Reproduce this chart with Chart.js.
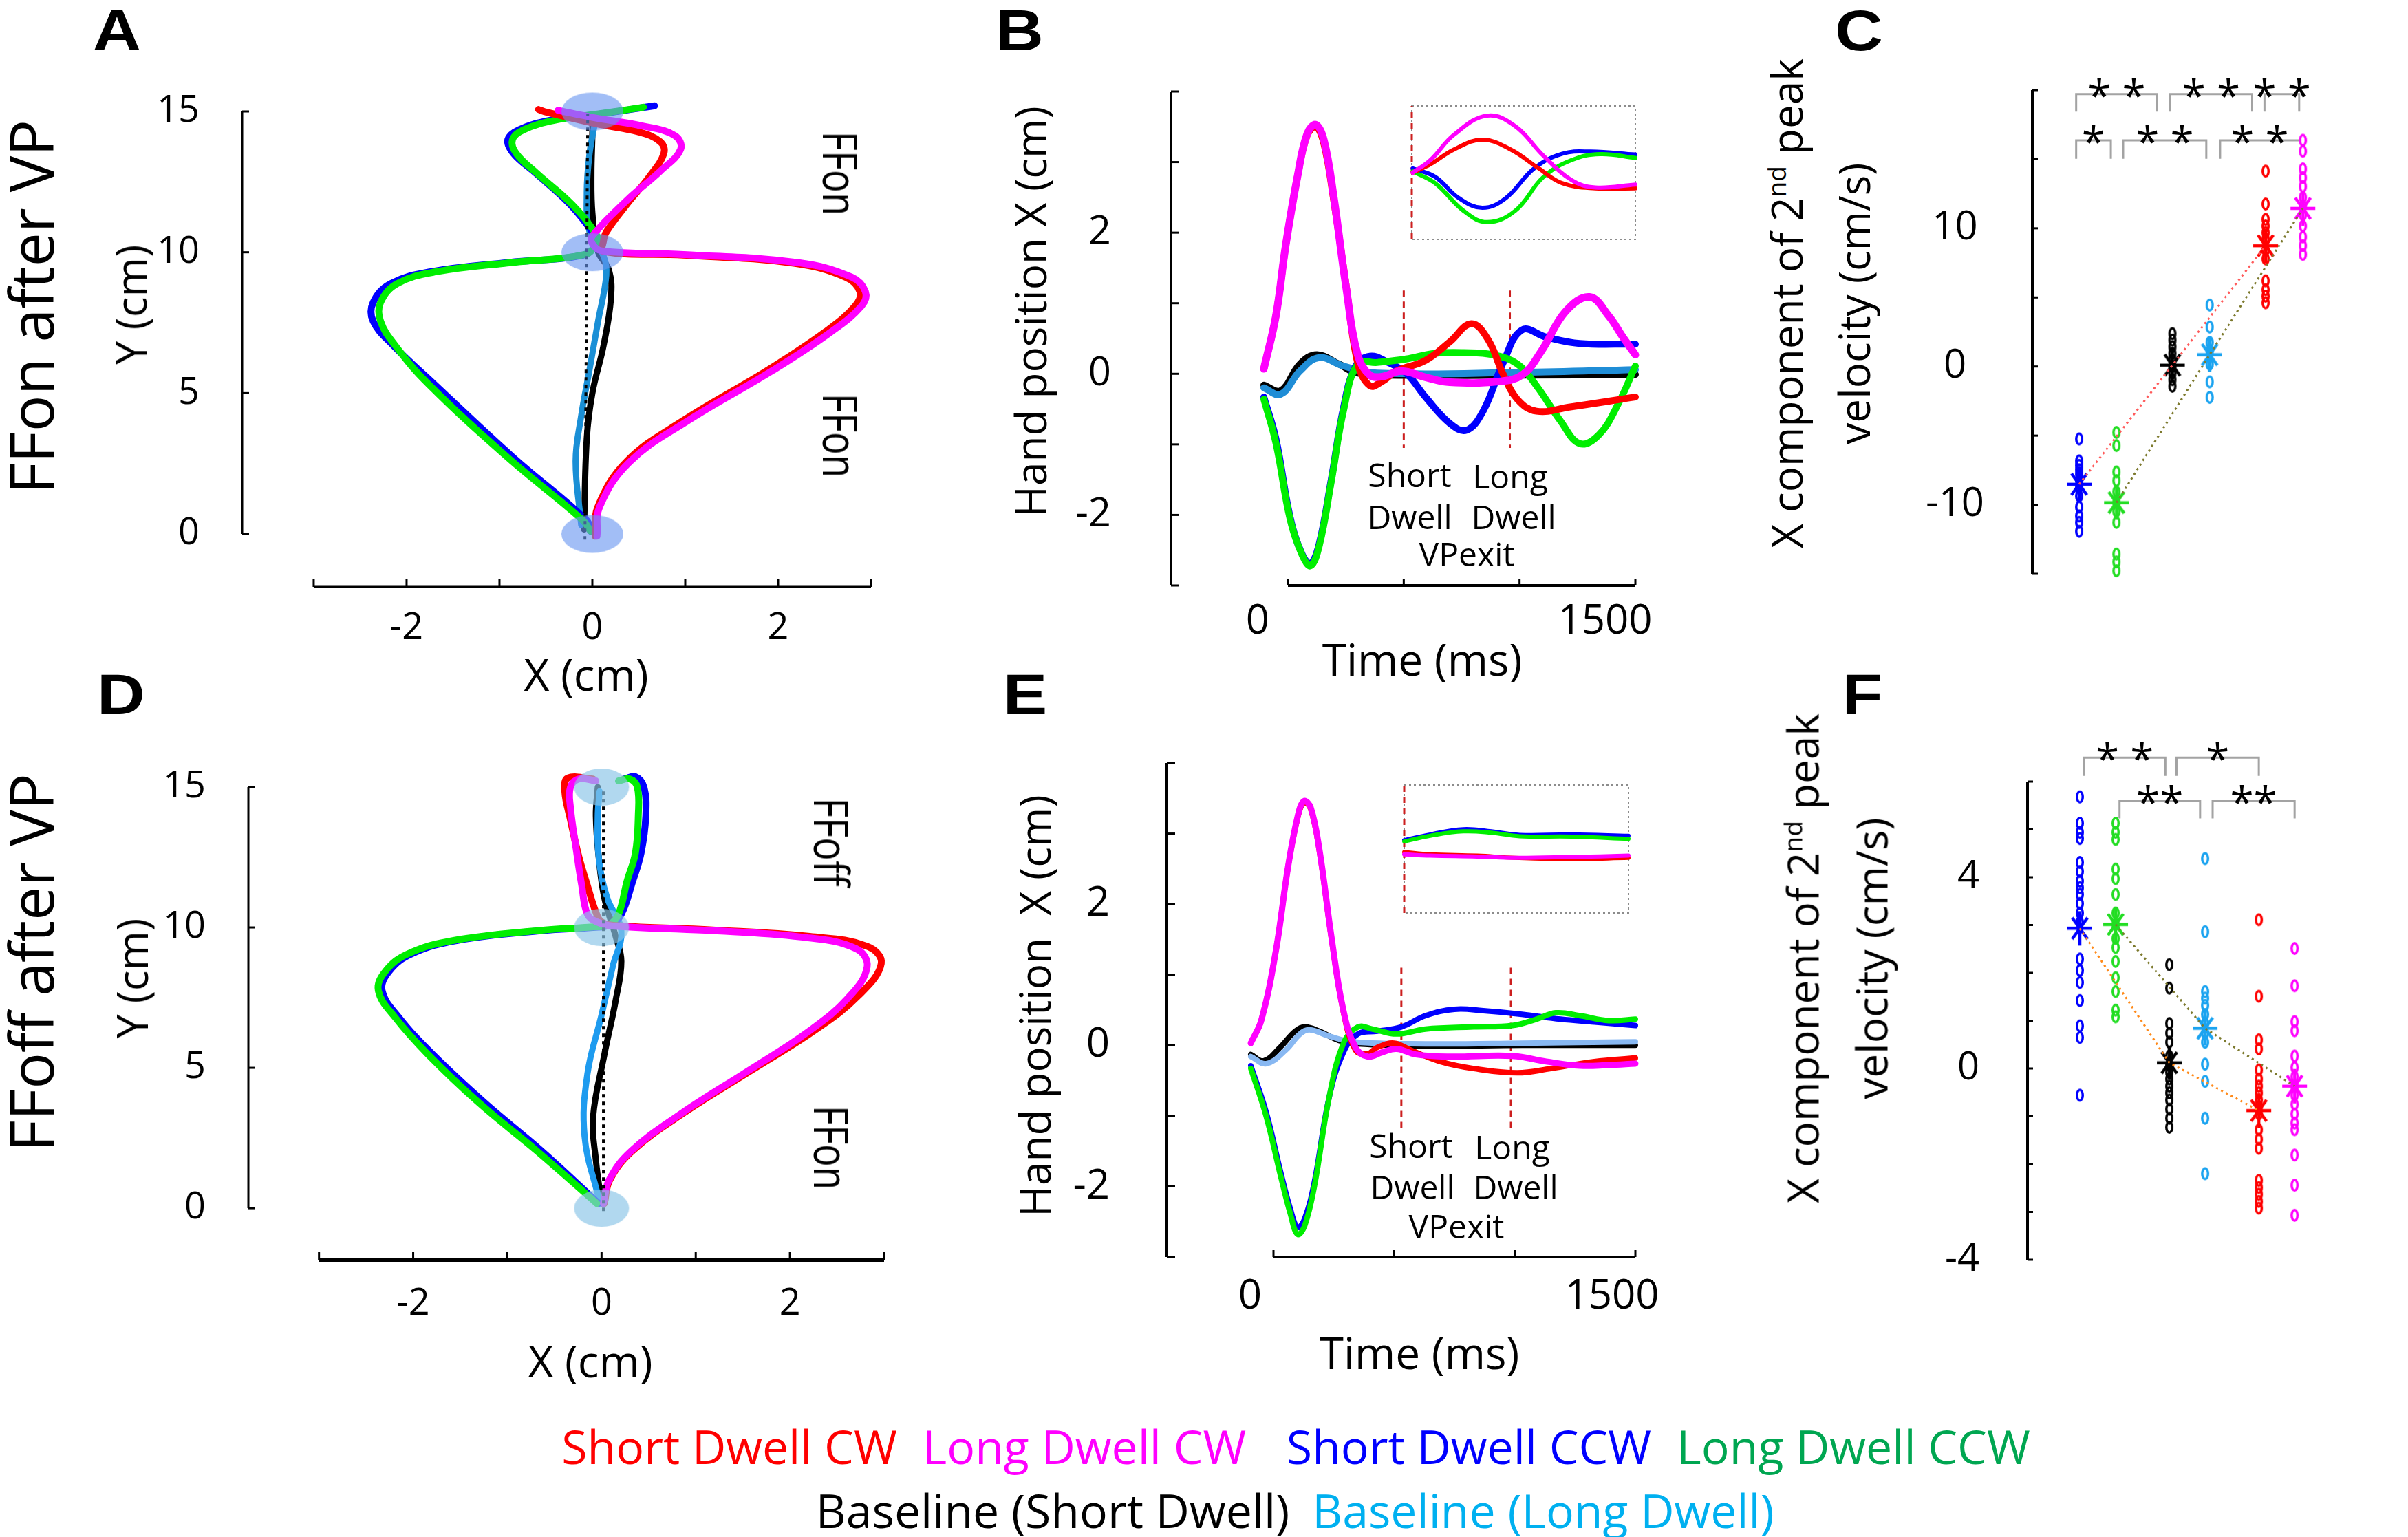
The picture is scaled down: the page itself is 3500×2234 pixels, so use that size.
<!DOCTYPE html>
<html><head><meta charset="utf-8">
<script src="https://cdn.jsdelivr.net/npm/chart.js@4.4.1/dist/chart.umd.min.js"></script>
<style>
html,body{margin:0;padding:0;background:#fff;}
body{width:3500px;height:2234px;position:relative;overflow:hidden;}
.t{position:absolute;white-space:pre;line-height:1;color:#000;}
canvas{position:absolute;}
</style></head><body>
<script>
const FONT = "'Open Sans', 'DejaVu Sans', sans-serif";

// ---------------- DATA ----------------
// Panel A : hand paths, FFon after VP  [x cm, y cm]
const aShortCW  = [[0.03,-0.08],[0.06,0.97],[0.37,2.58],[0.98,4.03],[1.9,5.84],[2.51,7.18],[2.83,8.1],[2.88,8.6],[2.73,9.11],[2.17,9.61],[0.98,9.9],[0.12,10.03],[0.12,10.4],[0.15,10.72],[0.37,11.7],[0.61,12.67],[0.77,13.51],[0.73,13.93],[0.49,14.28],[0.06,14.55],[-0.49,14.97],[-0.58,15.07]];
const aLongCW   = [[0.05,-0.08],[0.08,0.97],[0.4,2.55],[1.02,4.0],[1.94,5.8],[2.56,7.15],[2.9,8.1],[2.94,8.6],[2.79,9.12],[2.22,9.63],[0.98,9.92],[0.1,10.05],[0.0,10.3],[0.0,10.58],[0.37,11.84],[0.73,12.88],[0.95,13.65],[0.89,14.14],[0.55,14.48],[0.0,14.79],[-0.37,15.04]];
const aShortCCW = [[-0.02,0.1],[-0.06,0.48],[-0.86,2.74],[-1.71,5.34],[-2.14,6.68],[-2.36,7.55],[-2.36,8.22],[-2.17,8.89],[-1.74,9.31],[-0.9,9.64],[-0.1,9.9],[0.05,10.3],[0.03,10.58],[-0.24,11.7],[-0.61,12.81],[-0.85,13.51],[-0.91,14.0],[-0.79,14.35],[-0.45,14.69],[0.06,14.9],[0.67,15.2]];
const aLongCCW  = [[-0.02,0.1],[-0.1,0.48],[-0.92,2.74],[-1.77,5.34],[-2.12,6.68],[-2.28,7.55],[-2.28,8.22],[-2.1,8.89],[-1.68,9.31],[-0.86,9.64],[-0.08,9.92],[0.04,10.3],[0.05,10.58],[-0.22,11.7],[-0.6,12.81],[-0.82,13.51],[-0.86,14.0],[-0.74,14.35],[-0.4,14.69],[0.08,14.92],[0.55,15.15]];
const aBaseShort = [[-0.09,0.16],[-0.06,3.39],[0,5],[0.12,6.68],[0.2,8.36],[0.18,9.36],[0.06,10.03],[0,11.4],[-0.01,12.8],[0,14.2],[0,14.9]];
const aBaseLong  = [[-0.12,0.32],[-0.18,2.58],[-0.12,4.19],[-0.03,5.84],[0.06,7.52],[0.15,9.19],[0.12,9.87],[-0.03,10.72],[-0.06,12.12],[-0.03,13.51],[0.03,14.62]];
const aTargets = [[0,0],[0,10],[0,15]];
const aMidline = [[-0.08,-0.2],[-0.05,14.9]];

// Panel D : hand paths, FFoff after VP
const dShortCW  = [[0.03,0.17],[0.09,1.02],[0.33,2.05],[0.88,3.41],[1.61,4.95],[2.27,6.35],[2.73,7.58],[2.97,8.72],[2.82,9.33],[2.21,9.68],[1.18,9.91],[0.15,10.07],[0.0,10.2],[-0.06,10.54],[-0.15,11.49],[-0.24,12.51],[-0.33,13.83],[-0.39,14.85],[-0.36,15.32],[-0.09,15.29]];
const dLongCW   = [[0.02,0.17],[0.08,1.0],[0.31,2.02],[0.85,3.38],[1.56,4.9],[2.2,6.3],[2.62,7.5],[2.82,8.6],[2.7,9.25],[2.12,9.66],[1.1,9.9],[0.12,10.05],[-0.05,10.2],[-0.15,10.47],[-0.21,11.49],[-0.27,12.81],[-0.33,14.27],[-0.33,15.0],[-0.24,15.29],[-0.06,15.22]];
const dShortCCW = [[-0.03,0.17],[-0.64,2.05],[-1.24,3.75],[-1.79,5.47],[-2.15,6.79],[-2.33,7.75],[-2.25,8.46],[-2.01,9.07],[-1.53,9.54],[-0.62,9.89],[-0.09,10.0],[0.1,10.1],[0.21,10.47],[0.33,11.64],[0.42,12.66],[0.47,13.98],[0.45,15.0],[0.36,15.37],[0.24,15.29]];
const dLongCCW  = [[-0.05,0.17],[-0.69,2.05],[-1.3,3.75],[-1.84,5.47],[-2.19,6.79],[-2.37,7.75],[-2.29,8.46],[-2.05,9.07],[-1.57,9.54],[-0.64,9.9],[-0.09,10.02],[0.08,10.1],[0.18,10.47],[0.27,11.64],[0.36,12.66],[0.39,13.98],[0.38,15.0],[0.3,15.29],[0.18,15.22]];
const dBaseShort = [[0,0.17],[-0.06,1.71],[-0.09,3.24],[0.03,5.47],[0.15,7.4],[0.21,8.8],[0.15,9.68],[0.03,11.05],[-0.03,12.51],[-0.06,13.98],[-0.04,15.0]];
const dBaseLong  = [[-0.03,0.34],[-0.18,2.56],[-0.15,4.78],[0,6.88],[0.12,8.63],[0.21,9.88],[0.06,11.05],[-0.03,12.51],[-0.04,13.98],[-0.02,14.85]];
const dTargets = [[0,0],[0,10],[0,15]];
const dMidline = [[0.02,-0.1],[0.02,14.9]];

// Panel B : hand position X vs time [ms, cm]
const bShortCW  = [[-104,0.07],[-52,0.82],[-10,1.81],[42,2.81],[83,3.38],[121,3.5],[156,3.25],[198,2.45],[250,1.28],[302,0.14],[354,-0.17],[406,-0.11],[469,0.04],[594,0.19],[698,0.45],[792,0.71],[865,0.48],[927,0.01],[990,-0.36],[1073,-0.53],[1219,-0.47],[1500,-0.33]];
const bLongCW   = [[-104,0.07],[-52,0.82],[-10,1.81],[42,2.81],[83,3.4],[121,3.53],[156,3.3],[198,2.5],[250,1.25],[302,0.26],[354,-0.02],[406,-0.04],[490,0.04],[594,-0.05],[698,-0.12],[906,-0.11],[1010,-0.02],[1094,0.32],[1198,0.88],[1302,1.09],[1385,0.82],[1448,0.51],[1500,0.27]];
const bShortCCW = [[-104,-0.33],[-52,-0.92],[10,-2.04],[63,-2.57],[98,-2.69],[135,-2.41],[188,-1.48],[240,-0.48],[292,0.11],[354,0.25],[427,0.17],[510,0.01],[594,-0.33],[698,-0.7],[771,-0.8],[844,-0.52],[927,0.14],[1010,0.62],[1115,0.52],[1260,0.43],[1500,0.42]];
const bLongCCW  = [[-104,-0.36],[-52,-0.98],[10,-2.07],[63,-2.58],[98,-2.72],[135,-2.44],[188,-1.51],[240,-0.52],[302,0.14],[385,0.16],[510,0.21],[635,0.29],[760,0.3],[885,0.27],[990,0.14],[1073,-0.17],[1177,-0.67],[1260,-0.99],[1344,-0.86],[1427,-0.42],[1500,0.11]];
const bBaseShort = [[-104,-0.16],[-31,-0.24],[52,0.14],[125,0.27],[219,0.14],[302,0.01],[594,-0.02],[1000,-0.02],[1500,-0.01]];
const bBaseLong  = [[-104,-0.2],[-31,-0.29],[52,0.04],[135,0.23],[240,0.11],[385,0.01],[1010,0.02],[1500,0.06]];
const bDwellTimes = [500, 958];
const bDwellSpan = [1.18, -1.05];
// Panel B inset (magnified, 500-1500 ms)
const bInsShortCW  = [[504,0],[584,0.2],[689,0.55],[816,0.78],[942,0.55],[1068,0.1],[1174,-0.25],[1321,-0.37],[1500,-0.37]];
const bInsLongCW   = [[504,0],[584,0.3],[689,0.9],[837,1.35],[963,1.1],[1089,0.4],[1216,-0.18],[1321,-0.35],[1500,-0.28]];
const bInsShortCCW = [[504,0.1],[605,-0.1],[710,-0.6],[816,-0.83],[921,-0.6],[1047,0.1],[1174,0.45],[1300,0.5],[1500,0.43]];
const bInsLongCCW  = [[504,0.03],[605,-0.25],[731,-0.9],[837,-1.17],[963,-0.9],[1089,-0.1],[1216,0.3],[1342,0.44],[1500,0.35]];

// Panel E
const eShortCW  = [[-94,0.03],[-50,0.36],[10,1.34],[60,2.52],[100,3.22],[126,3.44],[154,3.35],[190,2.76],[240,1.52],[290,0.47],[340,-0.07],[390,-0.12],[430,-0.03],[500,0.03],[570,-0.07],[690,-0.23],[830,-0.33],[1010,-0.39],[1150,-0.33],[1330,-0.23],[1500,-0.18]];
const eLongCW   = [[-94,0.03],[-50,0.36],[10,1.34],[60,2.52],[100,3.24],[126,3.46],[154,3.37],[190,2.78],[240,1.54],[290,0.49],[340,-0.03],[390,-0.16],[450,-0.1],[510,-0.05],[590,-0.13],[730,-0.16],[990,-0.15],[1130,-0.23],[1270,-0.29],[1390,-0.28],[1500,-0.26]];
const eShortCCW = [[-94,-0.29],[-30,-0.95],[30,-1.8],[70,-2.32],[100,-2.58],[130,-2.45],[170,-1.93],[230,-0.75],[290,-0.1],[350,0.16],[430,0.2],[530,0.26],[630,0.42],[750,0.51],[870,0.49],[1030,0.44],[1190,0.37],[1330,0.33],[1500,0.28]];
const eLongCCW  = [[-94,-0.33],[-30,-1.01],[30,-1.86],[70,-2.39],[100,-2.68],[130,-2.55],[170,-1.99],[230,-0.75],[290,0.03],[350,0.26],[410,0.23],[510,0.16],[630,0.23],[830,0.26],[990,0.28],[1090,0.37],[1170,0.46],[1270,0.42],[1390,0.35],[1500,0.37]];
const eBaseShort = [[-94,-0.13],[-40,-0.22],[30,-0.02],[90,0.2],[130,0.26],[190,0.2],[270,0.07],[350,0.02],[630,-0.01],[1030,0],[1500,0]];
const eBaseLong  = [[-94,-0.16],[-30,-0.26],[50,-0.07],[110,0.16],[150,0.22],[230,0.13],[330,0.05],[630,0.02],[1030,0.03],[1500,0.05]];
const eDwellTimes = [530, 984];
const eDwellSpan = [1.1, -1.2];
const eInsShortCW  = [[500,-0.07],[616,-0.12],[826,-0.15],[995,-0.2],[1247,-0.23],[1500,-0.2]];
const eInsLongCW   = [[500,-0.12],[616,-0.15],[826,-0.17],[995,-0.2],[1247,-0.18],[1500,-0.15]];
const eInsShortCCW = [[500,0.2],[616,0.33],[763,0.45],[889,0.4],[1015,0.32],[1247,0.33],[1500,0.3]];
const eInsLongCCW  = [[500,0.17],[616,0.3],[763,0.4],[889,0.37],[1015,0.29],[1247,0.28],[1500,0.23]];

// Panels C / F : X component of 2nd peak velocity (cm/s)
const groupPos = [1, 2, 3.5, 4.5, 6, 7]; // Short CCW, Long CCW, Base short, Base long, Short CW, Long CW
const cShortCCW = [-5.24,-6.83,-7.15,-7.47,-7.79,-8.26,-8.74,-9.38,-10.17,-10.81,-11.28,-11.92];
const cLongCCW  = [-4.77,-5.72,-7.63,-8.26,-9.06,-9.85,-10.49,-11.28,-13.57,-14.14,-14.78];
const cBaseShort = [2.38,1.91,1.43,0.95,0.48,0,-0.48,-0.95,-1.43];
const cBaseLong  = [4.45,2.86,1.75,1.11,0.16,-1.11,-2.23];
const cShortCW  = [14.14,11.76,10.65,10.17,9.69,9.22,8.42,7.79,6.2,5.56,5.09,4.61];
const cLongCW   = [16.37,15.58,14.3,13.67,13.03,12.24,11.6,10.97,10.17,9.38,8.74,8.11];
const cMeans = [-8.52,-9.85,0.1,0.86,8.74,11.44];
// [x1, x2, top, left leg end, right leg end, label]
const cBrackets = [
  [0.92,3.09,19.71,18.44,18.44,'* *'],[3.44,5.64,19.71,18.44,18.44,'* *'],[5.97,6.9,19.71,18.44,18.44,'* *'],
  [0.92,1.85,16.37,15.03,15.03,'*'],[2.18,4.41,16.37,15.03,15.03,'* *'],[4.78,6.9,16.37,15.03,16.37,'* *']];

const fShortCCW = [5.68,5.13,4.94,4.81,4.31,4.12,3.92,3.78,3.64,3.45,3.25,3.06,2.29,2.05,1.80,1.42,0.89,0.65,-0.56];
const fLongCCW  = [5.13,4.94,4.79,4.17,3.97,3.64,3.25,3.01,2.72,2.53,2.24,1.9,1.61,1.22,1.08];
const fBaseShort = [2.17,1.68,0.94,0.74,0.55,0.26,0.07,-0.08,-0.22,-0.37,-0.51,-0.66,-0.85,-1.04,-1.23];
const fBaseLong  = [4.39,2.86,1.61,1.47,1.32,1.13,0.94,0.74,0.55,0.09,-0.27,-1.04,-2.2];
const fShortCW  = [3.11,1.51,0.6,0.41,-0.03,-0.22,-0.37,-0.51,-0.66,-0.8,-0.95,-1.28,-1.48,-1.67,-2.34,-2.49,-2.63,-2.78,-2.92];
const fLongCW   = [2.51,1.73,0.98,0.79,0.26,0.02,-0.17,-0.37,-0.56,-0.75,-0.95,-1.14,-1.28,-1.81,-2.44,-3.07];
const fMeans = [2.93,3.01,0.12,0.84,-0.88,-0.37];
const fBrackets = [
  [1.12,3.39,6.5,6.12,6.12,'* *'],[3.7,6.0,6.5,6.12,6.12,'*'],
  [2.11,4.36,5.59,5.23,5.23,'**'],[4.71,7.0,5.59,5.23,5.23,'**']];

// Ticks
const pathTicksX = [-3,-2,-1,0,1,2,3], pathLabelsX = [-2,0,2];
const pathTicksY = [0,5,10,15], pathLabelsY = [0,5,10,15];
const timeTicks = [0,500,1000,1500], timeLabels = [0,1500];
const posTicks = [-3,-2,-1,0,1,2,3,4], posLabels = [-2,0,2];
const cTicks = [-15,-10,-5,0,5,10,15,20], cLabels = [-10,0,10];
const fTicks = [-4,-3,-2,-1,0,1,2,3,4,5,6], fLabels = [-4,0,4];

const legendRow1 = [['Short Dwell CW','#ff0000'],['Long Dwell CW','#ff00ff'],['Short Dwell CCW','#0000ff'],['Long Dwell CCW','#00a651']];
const legendRow2 = [['Baseline (Short Dwell)','#000000'],['Baseline (Long Dwell)','#00b0f0']];

// ---------------- HELPERS ----------------
const COL = {scw:'#ff0000', lcw:'#ff00ff', sccw:'#0000ff', lccw:'#00ee00', bs:'#000000'};

function marker(kind, w, h, color, lw) {
  const pad = Math.ceil(lw || 0) + 2;
  const c = document.createElement('canvas');
  c.width = w + 2 * pad; c.height = h + 2 * pad;
  const g = c.getContext('2d'); const cx = c.width / 2, cy = c.height / 2;
  if (kind === 'disc') { g.fillStyle = color; g.beginPath(); g.ellipse(cx, cy, w / 2, h / 2, 0, 0, Math.PI * 2); g.fill(); }
  else if (kind === 'ring') { g.strokeStyle = color; g.lineWidth = lw; g.beginPath(); g.ellipse(cx, cy, w / 2 - lw / 2, h / 2 - lw / 2, 0, 0, Math.PI * 2); g.stroke(); }
  else { g.strokeStyle = color; g.lineWidth = lw; const rx = w / 2, ry = h / 2, dx = rx * 0.62, dy = ry * 0.62;
    g.beginPath(); g.moveTo(cx - rx, cy); g.lineTo(cx + rx, cy); g.moveTo(cx, cy - ry); g.lineTo(cx, cy + ry);
    g.moveTo(cx - dx, cy - dy); g.lineTo(cx + dx, cy + dy); g.moveTo(cx - dx, cy + dy); g.lineTo(cx + dx, cy - dy); g.stroke(); }
  return c;
}
function ln(pairs, color, width, o) {
  return Object.assign({data: pairs.map(p => ({x: p[0], y: p[1]})), showLine: true, borderColor: color, backgroundColor: color,
    borderWidth: width, pointRadius: 0, tension: 0.4, fill: false, clip: false, borderCapStyle: 'round', borderJoinStyle: 'round'}, o || {});
}
function pts(x, ys, img) {
  return {data: ys.map(y => ({x, y})), showLine: false, pointStyle: img, pointRadius: 5, pointBorderWidth: 0, clip: false};
}
function drawAxes(chart, o) {
  const ctx = chart.ctx, ca = chart.chartArea, xs = chart.scales.x, ys = chart.scales.y;
  ctx.save(); ctx.strokeStyle = '#000'; ctx.lineCap = 'butt'; ctx.setLineDash([]);
  if (o.y) {
    const y1 = ys.getPixelForValue(o.y.from), y2 = ys.getPixelForValue(o.y.to);
    ctx.lineWidth = o.y.width; ctx.beginPath(); ctx.moveTo(ca.left, y1); ctx.lineTo(ca.left, y2); ctx.stroke();
    ctx.lineWidth = o.y.tw || 3;
    ys.ticks.forEach(t => { if (t.value < o.y.from - 1e-9 || t.value > o.y.to + 1e-9) return;
      const p = ys.getPixelForValue(t.value); ctx.beginPath(); ctx.moveTo(ca.left, p); ctx.lineTo(ca.left + o.y.tick, p); ctx.stroke(); });
  }
  if (o.x) {
    const x1 = xs.getPixelForValue(o.x.from), x2 = xs.getPixelForValue(o.x.to);
    ctx.lineWidth = o.x.width; ctx.beginPath(); ctx.moveTo(x1, ca.bottom); ctx.lineTo(x2, ca.bottom); ctx.stroke();
    ctx.lineWidth = o.x.tw || 3;
    xs.ticks.forEach(t => { if (t.value < o.x.from - 1e-9 || t.value > o.x.to + 1e-9) return;
      const p = xs.getPixelForValue(t.value); ctx.beginPath(); ctx.moveTo(p, ca.bottom); ctx.lineTo(p, ca.bottom - o.x.tick); ctx.stroke(); });
  }
  ctx.restore();
}
const deco = {
  id: 'deco',
  beforeDatasetsDraw(chart, args, o) {
    if (o.axes) drawAxes(chart, o.axes);
    if (o.box) { const ctx = chart.ctx, ca = chart.chartArea; ctx.save(); ctx.strokeStyle = '#8c8c8c'; ctx.lineWidth = 2; ctx.setLineDash([3, 4]);
      ctx.strokeRect(ca.left, ca.top, ca.right - ca.left, ca.bottom - ca.top); ctx.restore(); }
  },
  afterDatasetsDraw(chart, args, o) {
    if (!o.brackets) return;
    const ctx = chart.ctx, xs = chart.scales.x, ys = chart.scales.y;
    ctx.save(); ctx.fillStyle = '#000'; ctx.font = '62px ' + FONT; ctx.textAlign = 'center'; ctx.textBaseline = 'alphabetic';
    o.brackets.forEach(b => ctx.fillText(b[5], xs.getPixelForValue((b[0] + b[1]) / 2), ys.getPixelForValue(b[2]) + 24));
    ctx.restore();
  }
};
Chart.register(deco);

function makePanel(rect, area, sc, datasets, decoOpts, hideAxes) {
  const cv = document.createElement('canvas');
  cv.width = rect.r - rect.l; cv.height = rect.b - rect.t;
  cv.style.left = rect.l + 'px'; cv.style.top = rect.t + 'px';
  document.body.appendChild(cv);
  const zero = s => { s.paddingLeft = 0; s.paddingRight = 0; s.paddingTop = 0; s.paddingBottom = 0; };
  const axis = (a, isX) => ({
    type: 'linear', min: a.min, max: a.max, display: !hideAxes,
    grid: {display: false}, border: {display: false},
    afterBuildTicks: s => { s.ticks = (a.ticks || []).map(v => ({value: v})); },
    ticks: {display: !!a.labels, autoSkip: false, maxRotation: 0, minRotation: 0, padding: a.pad || 0,
      labelOffset: a.offset || 0, crossAlign: a.cross || 'near', color: '#000',
      font: {family: FONT, size: a.size || 58}, callback: v => (a.labels || []).includes(v) ? String(v) : ''},
    afterFit: s => { if (isX) s.height = rect.b - area.b; else s.width = area.l - rect.l; zero(s); }
  });
  return new Chart(cv, {
    type: 'scatter',
    data: {datasets},
    options: {
      responsive: false, maintainAspectRatio: false, animation: false, devicePixelRatio: 1, events: [],
      layout: {autoPadding: false, padding: hideAxes ? {left: area.l - rect.l, top: area.t - rect.t, right: rect.r - area.r, bottom: rect.b - area.b}
                                                  : {left: 0, top: area.t - rect.t, right: rect.r - area.r, bottom: 0}},
      plugins: {legend: {display: false}, tooltip: {enabled: false}, deco: decoOpts || {}},
      scales: {x: axis(sc.x, true), y: axis(sc.y, false)}
    }
  });
}
function txt(html, cx, cy, size, o) {
  o = o || {};
  const d = document.createElement('div'); d.className = 't'; d.innerHTML = html;
  d.style.left = cx + 'px'; d.style.top = cy + 'px'; d.style.fontSize = size + 'px';
  d.style.fontFamily = o.family || FONT; if (o.weight) d.style.fontWeight = o.weight;
  d.style.color = o.color || '#000';
  if (o.lh) { d.style.lineHeight = o.lh + 'px'; d.style.textAlign = 'center'; }
  d.style.transform = 'translate(-50%,-50%)' + (o.rot ? ' rotate(' + o.rot + 'deg)' : '') + (o.sx ? ' scaleX(' + o.sx + ')' : '');
  document.body.appendChild(d);
}

// ---------------- PANELS A / D ----------------
function pathPanel(rect, area, sc, d, targetImg, lightCol, xAxisW) {
  const ds = [
    pts(0, [], targetImg),
    ln(d.mid, '#000', 4, {tension: 0, borderDash: [5, 6], borderCapStyle: 'butt'}),
    ln(d.lcw, COL.lcw, 10), ln(d.scw, COL.scw, 10),
    ln(d.lccw, COL.lccw, 10), ln(d.sccw, COL.sccw, 10),
    ln(d.bl, lightCol, 9), ln(d.bs, COL.bs, 9)
  ];
  ds[0].data = d.targets.map(p => ({x: p[0], y: p[1]}));
  return makePanel(rect, area, sc, ds, {axes: {x: {from: -3, to: 3, width: xAxisW, tick: 12}, y: {from: 0, to: 15, width: 3, tick: 10}}});
}
pathPanel({l:150,t:60,r:1350,b:960}, {l:352,t:162,r:1266,b:853},
  {x: {min: -3.77, max: 3, ticks: pathTicksX, labels: pathLabelsX, pad: 20, size: 54},
   y: {min: -1.88, max: 15, ticks: pathTicksY, labels: pathLabelsY, pad: 54, size: 54}},
  {targets: aTargets, mid: aMidline, scw: aShortCW, lcw: aLongCW, sccw: aShortCCW, lccw: aLongCCW, bs: aBaseShort, bl: aBaseLong},
  marker('disc', 90, 55, 'rgba(105,150,240,0.62)'), '#1a8fd6', 3);
pathPanel({l:150,t:1040,r:1350,b:1940}, {l:361,t:1144,r:1285,b:1832},
  {x: {min: -3.75, max: 3, ticks: pathTicksX, labels: pathLabelsX, pad: 23, size: 54},
   y: {min: -1.86, max: 15, ticks: pathTicksY, labels: pathLabelsY, pad: 54, size: 54}},
  {targets: dTargets, mid: dMidline, scw: dShortCW, lcw: dLongCW, sccw: dShortCCW, lccw: dLongCCW, bs: dBaseShort, bl: dBaseLong},
  marker('disc', 80, 54, 'rgba(140,198,232,0.68)'), '#1e9bef', 6);

// ---------------- PANELS B / E ----------------
function timePanel(rect, area, sc, d, lightCol, lw) {
  const ds = [
    ln(d.lcw, COL.lcw, lw + 1), ln(d.scw, COL.scw, lw),
    ln(d.lccw, COL.lccw, lw), ln(d.sccw, COL.sccw, lw),
    ln(d.bl, lightCol, lw), ln(d.bs, COL.bs, lw)
  ];
  d.dwell.forEach(t => ds.push(ln([[t, d.span[0]], [t, d.span[1]]], '#cc1f1f', 3, {tension: 0, borderDash: [9, 7], borderCapStyle: 'butt'})));
  return makePanel(rect, area, sc, ds, {axes: {x: {from: 0, to: 1500, width: 4, tick: 10}, y: {from: -3, to: 4, width: 4, tick: 12}}});
}
function insetPanel(area, yr, d) {
  const p = 8, rect = {l: area.l - p, t: area.t - p, r: area.r + p, b: area.b + p};
  const ds = [ln(d.lcw, COL.lcw, 6), ln(d.scw, COL.scw, 6), ln(d.lccw, COL.lccw, 6), ln(d.sccw, COL.sccw, 6),
    ln([[d.dwell, yr[0]], [d.dwell, yr[1]]], '#cc1f1f', 3, {tension: 0, borderDash: [9, 7], borderCapStyle: 'butt'})];
  return makePanel(rect, area, {x: {min: 500, max: 1500}, y: {min: yr[0], max: yr[1]}}, ds, {box: true}, true);
}
timePanel({l:1560,t:60,r:2440,b:940}, {l:1702,t:133,r:2377,b:851},
  {x: {min: -505, max: 1500, ticks: timeTicks, labels: timeLabels, pad: 9, size: 60, offset: -44},
   y: {min: -3, max: 4, ticks: posTicks, labels: posLabels, pad: 79, size: 58}},
  {scw: bShortCW, lcw: bLongCW, sccw: bShortCCW, lccw: bLongCCW, bs: bBaseShort, bl: bBaseLong, dwell: bDwellTimes, span: bDwellSpan},
  '#1f8dd6', 10);
insetPanel({l:2044,t:154,r:2377,b:356}, [-1.58, 1.58],
  {scw: bInsShortCW, lcw: bInsLongCW, sccw: bInsShortCCW, lccw: bInsLongCCW, dwell: 500});
timePanel({l:1560,t:1040,r:2440,b:1920}, {l:1696,t:1109,r:2377,b:1827},
  {x: {min: -442, max: 1500, ticks: timeTicks, labels: timeLabels, pad: 14, size: 60, offset: -34},
   y: {min: -3, max: 4, ticks: posTicks, labels: posLabels, pad: 75, size: 60}},
  {scw: eShortCW, lcw: eLongCW, sccw: eShortCCW, lccw: eLongCCW, bs: eBaseShort, bl: eBaseLong, dwell: eDwellTimes, span: eDwellSpan},
  '#88b8f2', 8);
insetPanel({l:2033,t:1141,r:2367,b:1335}, [-1.45, 1.45],
  {scw: eInsShortCW, lcw: eInsLongCW, sccw: eInsShortCCW, lccw: eInsLongCCW, dwell: 500});

// ---------------- PANELS C / F ----------------
function velPanel(rect, area, sc, groups, means, brackets, linkCols, lightCol, greenCol) {
  const cols = [COL.sccw, greenCol, COL.bs, lightCol, COL.scw, COL.lcw];
  const ds = [];
  ds.push(ln([0, 2, 4].map(i => [groupPos[i], means[i]]), linkCols[0], 3, {tension: 0, borderDash: [3, 5], borderCapStyle: 'butt'}));
  ds.push(ln([1, 3, 5].map(i => [groupPos[i], means[i]]), linkCols[1], 3, {tension: 0, borderDash: [3, 5], borderCapStyle: 'butt'}));
  groups.forEach((g, i) => {
    ds.push(pts(groupPos[i], [means[i]], marker('star', 36, 50, cols[i], 4.5)));
    ds.push(pts(groupPos[i], g, marker('ring', 12, 19, cols[i], 3.5)));
  });
  brackets.forEach(b => ds.push(ln([[b[0], b[3]], [b[0], b[2]], [b[1], b[2]], [b[1], b[4]]], '#a3a3a3', 3, {tension: 0, borderCapStyle: 'butt', borderJoinStyle: 'miter'})));
  return makePanel(rect, area, sc, ds, {axes: {y: {from: sc.y.min, to: sc.y.max, width: 4, tick: 8}}, brackets});
}
velPanel({l:2760,t:40,r:3480,b:900}, {l:2954,t:131,r:3420,b:834},
  {x: {min: -0.255, max: 8.343, ticks: [], labels: null}, y: {min: -15, max: 20, ticks: cTicks, labels: cLabels, pad: 62, size: 58, cross: 'center'}},
  [cShortCCW, cLongCCW, cBaseShort, cBaseLong, cShortCW, cLongCW], cMeans, cBrackets, ['#ff5a5a', '#7d7a2e'], '#1aa3f0', '#22dd22');
velPanel({l:2760,t:1000,r:3480,b:1900}, {l:2947,t:1136,r:3420,b:1831},
  {x: {min: -0.46, max: 8.63, ticks: [], labels: null}, y: {min: -4, max: 6, ticks: fTicks, labels: fLabels, pad: 62, size: 56}},
  [fShortCCW, fLongCCW, fBaseShort, fBaseLong, fShortCW, fLongCW], fMeans, fBrackets, ['#ff8a1a', '#7d7a2e'], '#1aa3f0', '#22dd22');

// ---------------- TEXT ----------------
const LET = "'Liberation Sans', Arial, sans-serif";
[['A',170,44],['B',1482,44],['C',2702,44],['D',176,1009],['E',1490,1009],['F',2707,1009]].forEach(l =>
  txt(l[0], l[1], l[2], 84, {family: LET, weight: 'bold', sx: 1.15}));
txt('FFon after VP', 44, 446, 88, {rot: -90});
txt('FFoff after VP', 44, 1399, 88, {rot: -90});
txt('Y (cm)', 189, 443, 62, {rot: -90});
txt('X (cm)', 852, 980, 64);
txt('Y (cm)', 191, 1422, 62, {rot: -90});
txt('X (cm)', 858, 1978, 64);
txt('FFon', 1223, 252, 70, {rot: 90, sx: 0.78});
txt('FFon', 1223, 633, 70, {rot: 90, sx: 0.78});
txt('FFoff', 1210, 1224, 70, {rot: 90, sx: 0.8});
txt('FFon', 1210, 1668, 70, {rot: 90, sx: 0.78});
txt('Hand position X (cm)', 1497, 453, 62, {rot: -90});
txt('Hand position  X (cm)', 1503, 1462, 62, {rot: -90});
txt('Time (ms)', 2067, 958, 64);
txt('Time (ms)', 2063, 1966, 64);
[['Short',2049,690],['Dwell',2049,751],['Long',2195,692],['Dwell',2200,751],['VPexit',2132,805],
 ['Short',2051,1665],['Dwell',2053,1725],['Long',2198,1667],['Dwell',2203,1725],['VPexit',2117,1782]].forEach(s => txt(s[0], s[1], s[2], 48));
const SUP = '<span style="font-size:0.6em;position:relative;top:-0.65em">nd</span>';
txt('X component of 2' + SUP + ' peak<br>velocity (cm/s)', 2645, 441, 62, {rot: -90, lh: 89});
txt('X component of 2' + SUP + ' peak<br>velocity (cm/s)', 2670, 1393, 62, {rot: -90, lh: 91});
// legend
const leg1X = [1060, 1576, 2135, 2694], leg2X = [1530, 2243];
legendRow1.forEach((l, i) => txt(l[0], leg1X[i], 2102, 68, {color: l[1]}));
legendRow2.forEach((l, i) => txt(l[0], leg2X[i], 2195, 68, {color: l[1]}));
</script>
</body></html>
